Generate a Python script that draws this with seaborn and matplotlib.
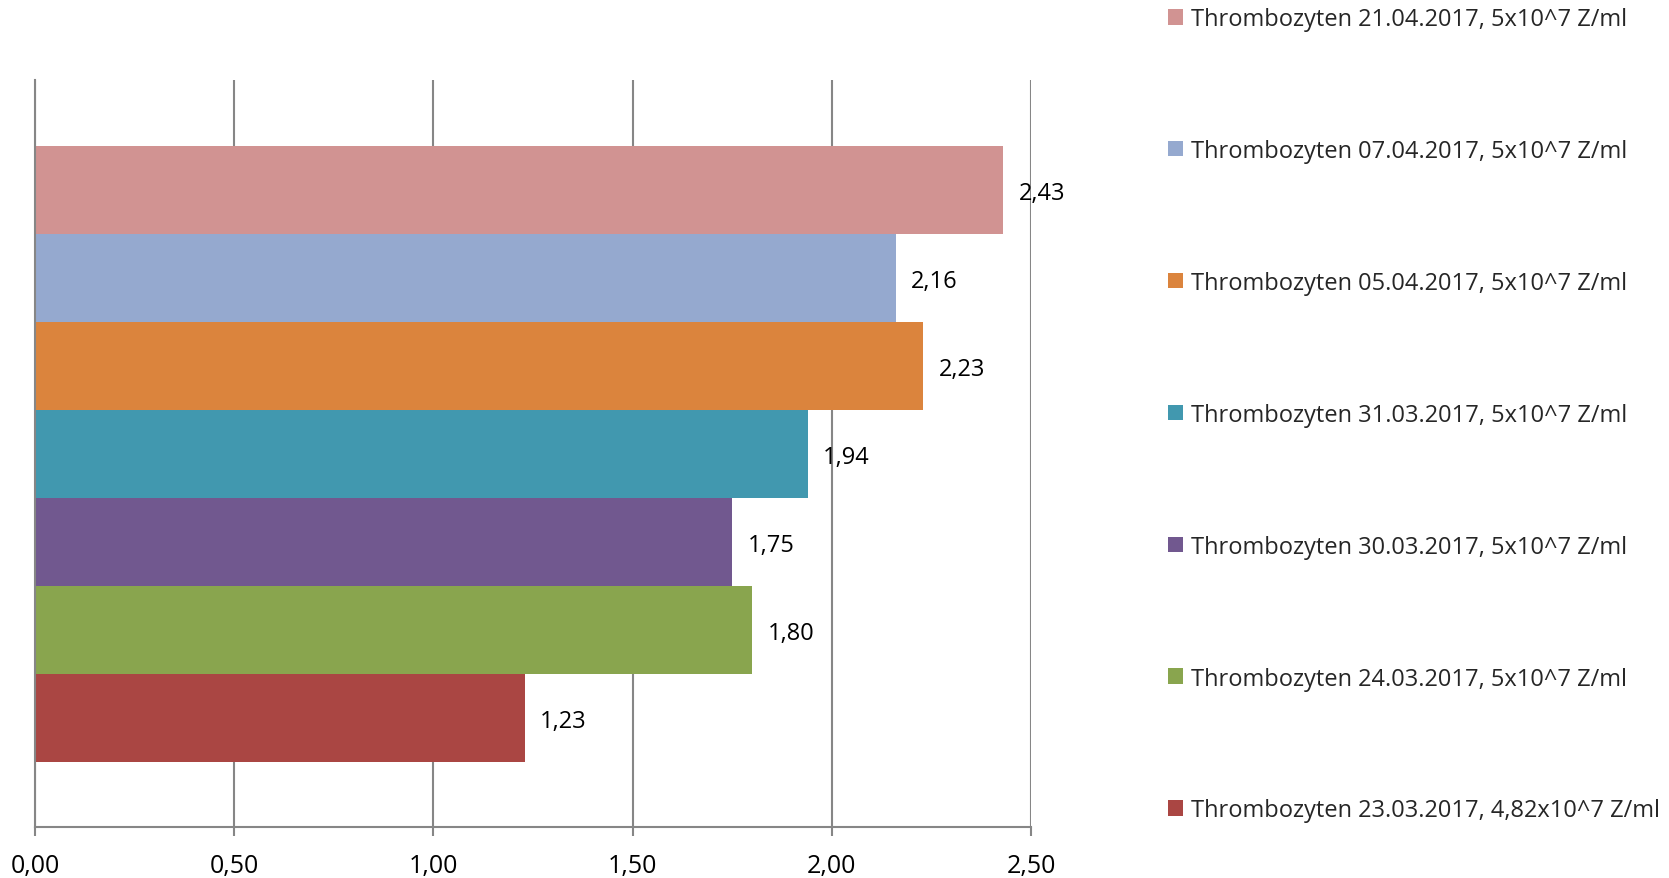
import matplotlib
matplotlib.use("Agg")
import matplotlib.pyplot as plt
import seaborn as sns
import pandas as pd
from matplotlib.ticker import FuncFormatter, MultipleLocator

series = [
    "Thrombozyten 21.04.2017, 5x10^7 Z/ml",
    "Thrombozyten 07.04.2017, 5x10^7 Z/ml",
    "Thrombozyten 05.04.2017, 5x10^7 Z/ml",
    "Thrombozyten 31.03.2017, 5x10^7 Z/ml",
    "Thrombozyten 30.03.2017, 5x10^7 Z/ml",
    "Thrombozyten 24.03.2017, 5x10^7 Z/ml",
    "Thrombozyten 23.03.2017, 4,82x10^7 Z/ml",
]
values = [2.43, 2.16, 2.23, 1.94, 1.75, 1.80, 1.23]
colors = ["#D19392", "#95A9CF", "#DB843D", "#4198AF", "#71588F", "#89A54E", "#AA4643"]

sns.set_theme(style="white")
plt.rcParams["font.family"] = ["Open Sans", "DejaVu Sans"]

W, H = 1669, 879
fig = plt.figure(figsize=(W / 100, H / 100), dpi=100)
left, right, top, bottom = 35, 1031, 81, 828
ax = fig.add_axes([left / W, 1 - bottom / H, (right - left) / W, (bottom - top) / H])

df = pd.DataFrame({"series": series, "value": values})
sns.barplot(data=df, y="series", x="value", hue="series", palette=colors,
            order=series, hue_order=series, width=1.0, saturation=1,
            orient="h", legend=True, linewidth=0, edgecolor="none", ax=ax)

grid_c = "#868686"
ax.set_xlim(0, 2.5)
ax.set_ylim(6.5 + 65 / 88, -0.5 - 66 / 88)
ax.xaxis.set_major_locator(MultipleLocator(0.5))
ax.xaxis.set_major_formatter(FuncFormatter(lambda v, p: f"{v:.2f}".replace(".", ",")))
ax.grid(axis="x", color=grid_c, linewidth=1.5)
ax.set_axisbelow(True)
ax.set_yticks([])
ax.set_xlabel("")
ax.set_ylabel("")
for s in ["top", "right"]:
    ax.spines[s].set_visible(False)
for s in ["left", "bottom"]:
    ax.spines[s].set_color(grid_c)
    ax.spines[s].set_linewidth(1.5)
ax.tick_params(axis="x", bottom=True, direction="out", length=6.5, width=1.5,
               color=grid_c, pad=12, labelsize=18, labelcolor="black")

for cont, v in zip(ax.containers, values):
    txts = ax.bar_label(cont, labels=[f"{v:.2f}".replace(".", ",")], padding=11,
                        fontsize=17, color="black")
    for t in txts:
        t.set_y(-2)

handles, labels = ax.get_legend_handles_labels()
ax.get_legend().remove()
fig.legend(handles, labels, loc="upper left", bbox_to_anchor=(1168 / W, 1 - 8 / H),
           frameon=False, fontsize=17, labelspacing=4.57, handlelength=0.64,
           handleheight=0.64, handletextpad=0.35, borderpad=0, borderaxespad=0)

fig.savefig("out.png", dpi=100)
